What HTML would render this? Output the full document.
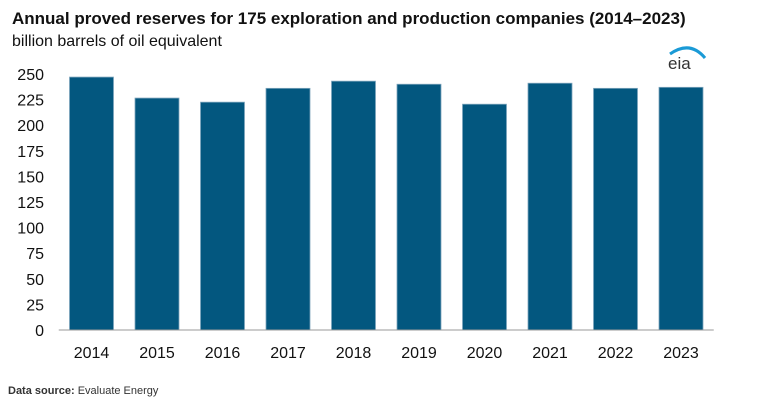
<!DOCTYPE html>
<html><head><meta charset="utf-8"><style>
body{margin:0;background:#fff;font-family:"Liberation Sans",Arial,sans-serif;}
svg{display:block}
</style></head><body>
<svg id="chart" width="765" height="419" xmlns="http://www.w3.org/2000/svg">
<text x="12" y="24" font-size="17" font-weight="bold" fill="#111">Annual proved reserves for 175 exploration and production companies (2014–2023)</text>
<text x="12" y="46" font-size="16" fill="#111">billion barrels of oil equivalent</text>
<g>
<path d="M670 54 Q690 40 705 58" stroke="#1a9ad6" stroke-width="3" fill="none"/>
<text x="668" y="69" font-size="17" fill="#333">eia</text>
</g>
<g id="yaxis"></g><g id="bars"></g><g id="xaxis"></g>
<text x="8" y="394" font-size="11" fill="#333"><tspan font-weight="bold">Data source:</tspan> Evaluate Energy</text>
</svg>
<script>
const categories=["2014","2015","2016","2017","2018","2019","2020","2021","2022","2023"];
const values=[247,226.5,222.5,236,243,240,220.5,241,236,237];
const yTicks=[0,25,50,75,100,125,150,175,200,225,250];
const ns="http://www.w3.org/2000/svg";
const left=58.75,step=65.5,base=330,k=1.024,bw=44;
const y=v=>base-v*k, xc=i=>left+step*(i+0.5);
const ya=document.getElementById('yaxis'),ba=document.getElementById('bars'),xa=document.getElementById('xaxis');
function mk(t,a,p){const e=document.createElementNS(ns,t);for(const q in a)e.setAttribute(q,a[q]);p.appendChild(e);return e;}
yTicks.forEach(v=>{const t=mk('text',{x:44,y:y(v)+6,'font-size':16,'text-anchor':'end',fill:'#111'},ya);t.textContent=v;

});
values.forEach((v,i)=>{const r=mk('rect',{x:xc(i)-bw/2,y:y(v),width:bw,height:v*k,fill:'#03577f',stroke:'#7fa6bd','stroke-width':0.8},ba);

});
categories.forEach((c,i)=>{const t=mk('text',{x:xc(i),y:358,'font-size':16,'text-anchor':'middle',fill:'#111'},xa);t.textContent=c;

});
const l=mk('line',{x1:left,x2:left+step*10,y1:base,y2:base,stroke:'#999','stroke-width':1},xa);


</script>
</body></html>
